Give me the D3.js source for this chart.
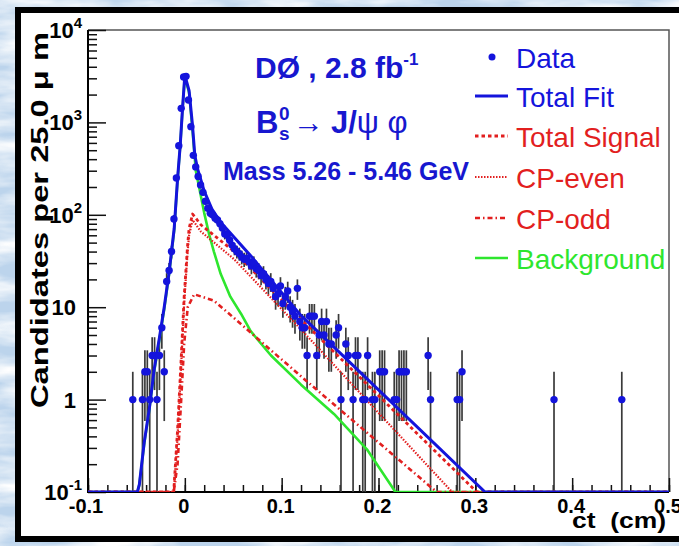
<!doctype html>
<html>
<head>
<meta charset="utf-8">
<title>Bs -> J/psi phi, ct distribution</title>
<script src="https://d3js.org/d3.v7.min.js"></script>
<style>
  body { margin: 0; background: #c3d9ee; }
  svg { display: block; }
  text { font-family: "Liberation Sans", Arial, Helvetica, sans-serif; }
</style>
</head>
<body>
<svg id="chart" width="679" height="546"></svg>
<script>
// data: bin centres (cm) and candidate counts, bins of 25 um, empty bins left out
const binCt = [-0.05375, -0.04375, -0.04125, -0.03875, -0.03625, -0.03375, -0.03125, -0.02875, -0.02625, -0.02375,
  -0.02125, -0.01875, -0.01625, -0.01375, -0.01125, -0.00875, -0.00625, -0.00375, -0.00125, 0.00125,
  0.00375, 0.00625, 0.00875, 0.01125, 0.01375, 0.01625, 0.01875, 0.02125, 0.02375, 0.02625,
  0.02875, 0.03125, 0.03375, 0.03625, 0.03875, 0.04125, 0.04375, 0.04625, 0.04875, 0.05125,
  0.05375, 0.05625, 0.05875, 0.06125, 0.06375, 0.06625, 0.06875, 0.07125, 0.07375, 0.07625,
  0.07875, 0.08125, 0.08375, 0.08625, 0.08875, 0.09125, 0.09375, 0.09625, 0.09875, 0.10125,
  0.10375, 0.10625, 0.10875, 0.11125, 0.11375, 0.11625, 0.11875, 0.12125, 0.12375, 0.12625,
  0.12875, 0.13125, 0.13375, 0.13625, 0.13875, 0.14125, 0.14375, 0.14625, 0.14875, 0.15125,
  0.15625, 0.15875, 0.16125, 0.16625, 0.16875, 0.17375, 0.17625, 0.17875, 0.18375, 0.18625,
  0.18875, 0.19375, 0.19625, 0.20125, 0.20375, 0.20625, 0.21625, 0.21875, 0.22125, 0.22375,
  0.22625, 0.22875, 0.25125, 0.25375, 0.28125, 0.28375, 0.28625, 0.38125, 0.45125];
const binN = [1, 1, 2, 2, 1, 3, 3, 1, 3, 6,
  2, 19, 25, 40, 90, 250, 560, 1420, 3100, 3150,
  1750, 900, 440, 330, 260, 210, 175, 140, 118, 104,
  100, 92, 88, 80, 72, 62, 60, 53, 47, 43,
  40, 38, 35, 33, 34, 31, 28, 30, 26, 25,
  22, 23, 20, 18, 19, 16, 13, 14, 17, 11,
  13, 15, 10, 9, 8, 16, 7, 6, 6, 3,
  8, 8, 8, 3, 5, 7, 5, 7, 4, 4,
  5, 6, 1, 4, 3, 1, 3, 3, 1, 1,
  3, 1, 1, 2, 2, 2, 1, 1, 2, 2,
  2, 2, 3, 1, 1, 1, 2, 1, 1];

// fitted curves as (ct, candidates) pairs
const fitCt = [-0.1, -0.049, -0.047, -0.042, -0.0368, -0.0317, -0.0265, -0.0213, -0.0162, -0.011, -0.0075, -0.0048, -0.0024, 0.0,
  0.0044, 0.0079, 0.0103, 0.0131, 0.0165, 0.02, 0.028, 0.037, 0.068, 0.1196, 0.31, 0.5];
const fitVal = [0.1, 0.1, 0.12, 0.34, 0.78, 2.1, 4.5, 10, 24, 71, 246, 560, 1410, 3250,
  2200, 935, 440, 316, 240, 180, 115, 83, 36, 8.2, 0.1, 0.1];

const bkgCt = [-0.1, -0.049, -0.047, -0.042, -0.0368, -0.0317, -0.0265, -0.0213, -0.0162, -0.011, -0.0075, -0.0048, -0.0024, 0.0,
  0.0044, 0.0079, 0.0113, 0.0147, 0.02, 0.025, 0.03, 0.037, 0.047, 0.058, 0.068, 0.089, 0.12, 0.154, 0.188, 0.2175, 0.5];
const bkgVal = [0.1, 0.1, 0.12, 0.33, 0.76, 2.0, 4.3, 9.5, 23, 68, 240, 545, 1380, 3150,
  2100, 830, 300, 200, 105, 62, 40, 23, 13, 8.5, 5.5, 3.0, 1.45, 0.7, 0.29, 0.1, 0.1];

const sigCt = [-0.1, -0.0115, -0.0075, -0.004, -0.0007, 0.0028, 0.0044, 0.008, 0.0165, 0.051, 0.1196, 0.3015, 0.5];
const sigVal = [0.1, 0.1, 0.47, 2.5, 13, 46, 71, 102, 78, 40, 7.4, 0.1, 0.1];

const evenCt = [-0.1, -0.0115, -0.0075, -0.004, -0.0007, 0.0028, 0.0044, 0.008, 0.0165, 0.051, 0.1196, 0.276, 0.5];
const evenVal = [0.1, 0.1, 0.4, 2.1, 11, 39, 60, 88, 66, 33, 5.8, 0.1, 0.1];

const oddCt = [-0.1, -0.0115, -0.0075, -0.004, -0.0007, 0.003, 0.0096, 0.03, 0.1196, 0.26, 0.5];
const oddVal = [0.1, 0.1, 0.2, 0.9, 4, 10, 13.8, 11.8, 1.8, 0.1, 0.1];

const xTicks = [-0.1, 0, 0.1, 0.2, 0.3, 0.4, 0.5];
const xTickLabels = ["-0.1", "0", "0.1", "0.2", "0.3", "0.4", "0.5"];
const yDecades = [0.1, 1, 10, 100, 1000, 10000];
const yTickBase = ["10", "1", "10", "10", "10", "10"];
const yTickExp = ["-1", "", "", "2", "3", "4"];

const legendNames = ["Data", "Total Fit", "Total Signal", "CP-even", "CP-odd", "Background"];

const BLUE = "#1414dc", RED = "#e21f1f", GREEN = "#2ee62e", TEXTBLUE = "#1717cf";

const svg = d3.select("#chart");

// textured light blue backdrop
const defs = svg.append("defs");
const tex = defs.append("filter").attr("id", "tex").attr("x", 0).attr("y", 0).attr("width", 1).attr("height", 1);
tex.append("feTurbulence").attr("type", "fractalNoise").attr("baseFrequency", "0.012 0.05")
  .attr("numOctaves", 4).attr("seed", 7);
tex.append("feColorMatrix").attr("type", "matrix")
  .attr("values", "0 0 0 0 1  0 0 0 0 1  0 0 0 0 1  2.2 0 0 0 -0.75");
svg.append("rect").attr("width", 679).attr("height", 546).attr("fill", "#bcd4ec");
svg.append("rect").attr("width", 679).attr("height", 546).attr("filter", "url(#tex)");

// white page with black border
svg.append("rect").attr("x", 18).attr("y", 10).attr("width", 700).attr("height", 529)
  .attr("fill", "white").attr("stroke", "black").attr("stroke-width", 6);

const X0 = 88, X1 = 669, Y0 = 492, Y1 = 30;
const x = d3.scaleLinear().domain([-0.1, 0.5]).range([X0, X1]);
const y = d3.scaleLog().domain([0.1, 1e4]).range([Y0, Y1]);
const yc = v => y(Math.max(v, 0.1));

defs.append("clipPath").attr("id", "plot").append("rect")
  .attr("x", X0).attr("y", Y1).attr("width", X1 - X0).attr("height", Y0 - Y1);

// frame top/right
svg.append("path").attr("d", `M${X0},${Y1}H${X1}V${Y0}`).attr("fill", "none")
  .attr("stroke", "#555").attr("stroke-width", 1.5);

// x axis
const xMinor = d3.range(-0.1, 0.5001, 0.02);
svg.append("g").attr("transform", `translate(0,${Y0})`)
  .call(d3.axisBottom(x).tickValues(xMinor).tickSize(-7).tickFormat(""))
  .call(g => g.select(".domain").remove())
  .call(g => g.selectAll("line").attr("stroke", "#111").attr("stroke-width", 1.5));
svg.append("g").attr("transform", `translate(0,${Y0})`)
  .call(d3.axisBottom(x).tickValues(xTicks).tickSize(-14).tickFormat(""))
  .call(g => g.select(".domain").remove())
  .call(g => g.selectAll("line").attr("stroke", "#111").attr("stroke-width", 1.5));

svg.append("g").selectAll("text").data(xTicks).join("text")
  .attr("x", (d, i) => x(d) - (i === 0 ? 2 : 1)).attr("y", 513)
  .attr("text-anchor", "middle").attr("font-size", 20).attr("font-weight", "bold")
  .text((d, i) => xTickLabels[i]);

// y axis
const yMinor = [];
yDecades.slice(0, -1).forEach(d => { for (let k = 2; k <= 9; k++) yMinor.push(d * k); });
svg.append("g").attr("transform", `translate(${X0},0)`)
  .call(d3.axisLeft(y).tickValues(yMinor).tickSize(-9).tickFormat(""))
  .call(g => g.select(".domain").remove())
  .call(g => g.selectAll("line").attr("stroke", "#111").attr("stroke-width", 1.5));
svg.append("g").attr("transform", `translate(${X0},0)`)
  .call(d3.axisLeft(y).tickValues(yDecades).tickSize(-18).tickFormat(""))
  .call(g => g.select(".domain").remove())
  .call(g => g.selectAll("line").attr("stroke", "#111").attr("stroke-width", 1.5));

const yLab = svg.append("g").selectAll("text").data(yDecades).join("text")
  .attr("x", (d, i) => yTickExp[i] ? 82 : 76)
  .attr("y", d => y(d) + 8)
  .attr("text-anchor", "end").attr("font-size", 22).attr("font-weight", "bold");
yLab.append("tspan").text((d, i) => yTickBase[i]);
yLab.append("tspan").attr("dy", -10).attr("font-size", 15).text((d, i) => yTickExp[i]);

// axis lines
svg.append("path").attr("d", `M${X0},${Y1}V${Y0}H${X1}`).attr("fill", "none")
  .attr("stroke", "black").attr("stroke-width", 2);

// axis titles
svg.append("text").attr("transform", `translate(48,32) rotate(-90)`)
  .attr("text-anchor", "end").attr("font-size", 24).attr("font-weight", "bold")
  .attr("textLength", 376).attr("lengthAdjust", "spacingAndGlyphs")
  .text("Candidates per 25.0 \u03bc m");
svg.append("text").attr("x", 666).attr("y", 528).attr("text-anchor", "end")
  .attr("font-size", 22).attr("font-weight", "bold").attr("xml:space", "preserve")
  .attr("textLength", 94).attr("lengthAdjust", "spacingAndGlyphs")
  .text("ct  (cm)");

// plot contents
const plot = svg.append("g").attr("clip-path", "url(#plot)");
const points = binCt.map((c, i) => ({ ct: c, n: binN[i] }));

plot.append("g").selectAll("line").data(points).join("line")
  .attr("x1", d => x(d.ct)).attr("x2", d => x(d.ct))
  .attr("y1", d => yc(d.n + Math.sqrt(d.n)))
  .attr("y2", d => (d.n - Math.sqrt(d.n)) > 0.1 ? y(d.n - Math.sqrt(d.n)) : Y0)
  .attr("stroke", "#3a3a3a").attr("stroke-width", 1.7);

const line = d3.line().x(d => x(d[0])).y(d => yc(d[1]));
const zip = (a, b) => a.map((v, i) => [v, b[i]]);

const curves = [
  { pts: zip(bkgCt, bkgVal), color: GREEN, width: 2.6, dash: null },
  { pts: zip(oddCt, oddVal), color: RED, width: 2.6, dash: "5,3,1.5,3" },
  { pts: zip(evenCt, evenVal), color: RED, width: 2.2, dash: "1.5,1.5" },
  { pts: zip(sigCt, sigVal), color: RED, width: 2.8, dash: "3.5,3" },
  { pts: zip(fitCt, fitVal), color: BLUE, width: 3, dash: null }
];
curves.forEach(c => {
  plot.append("path").attr("d", line(c.pts)).attr("fill", "none")
    .attr("stroke", c.color).attr("stroke-width", c.width)
    .attr("stroke-linejoin", "round")
    .attr("stroke-dasharray", c.dash);
});

plot.append("g").selectAll("circle").data(points).join("circle")
  .attr("cx", d => x(d.ct)).attr("cy", d => y(d.n)).attr("r", 3.7)
  .attr("fill", BLUE);

// labels inside the plot
const t1 = svg.append("text").attr("x", 255).attr("y", 78).attr("fill", TEXTBLUE)
  .attr("font-size", 30).attr("font-weight", "bold").attr("xml:space", "preserve");
t1.append("tspan").text("D\u00d8 , 2.8 fb");
t1.append("tspan").attr("dx", 0).attr("dy", -13).attr("font-size", 17).text("-1");

const t2 = svg.append("text").attr("x", 256).attr("y", 133).attr("fill", TEXTBLUE)
  .attr("font-size", 31).attr("font-weight", "bold").attr("xml:space", "preserve");
t2.append("tspan").text("B");
t2.append("tspan").attr("x", 279).attr("dy", -13).attr("font-size", 19).text("0");
t2.append("tspan").attr("x", 279).attr("dy", 20).attr("font-size", 19).text("s");
t2.append("tspan").attr("x", 293).attr("dy", -7).attr("font-weight", "normal").text("\u2192");
t2.append("tspan").attr("x", 331).text("J/");
t2.append("tspan").attr("font-weight", "normal").text("\u03c8 \u03c6");

svg.append("text").attr("x", 223).attr("y", 180).attr("fill", TEXTBLUE)
  .attr("font-size", 25).attr("font-weight", "bold")
  .text("Mass 5.26 - 5.46 GeV");

// legend
const legY = [57, 96, 136, 177, 218, 258];
const legColor = [BLUE, BLUE, RED, RED, RED, GREEN];
const legDash = [null, null, "3.5,3", "1.5,1.5", "5,3,1.5,3", null];
const legWidth = [0, 3, 2.8, 2.2, 2.6, 2.6];
const leg = svg.append("g");
leg.append("circle").attr("cx", 492).attr("cy", legY[0]).attr("r", 3.5).attr("fill", BLUE);
leg.selectAll("line").data(legendNames.slice(1)).join("line")
  .attr("x1", 475).attr("x2", 508)
  .attr("y1", (d, i) => legY[i + 1]).attr("y2", (d, i) => legY[i + 1])
  .attr("stroke", (d, i) => legColor[i + 1]).attr("stroke-width", (d, i) => legWidth[i + 1])
  .attr("stroke-dasharray", (d, i) => legDash[i + 1]);
leg.selectAll("text").data(legendNames).join("text")
  .attr("x", 516).attr("y", (d, i) => legY[i] + 11)
  .attr("font-size", 28).attr("fill", (d, i) => legColor[i])
  .text(d => d);
</script>
</body>
</html>
